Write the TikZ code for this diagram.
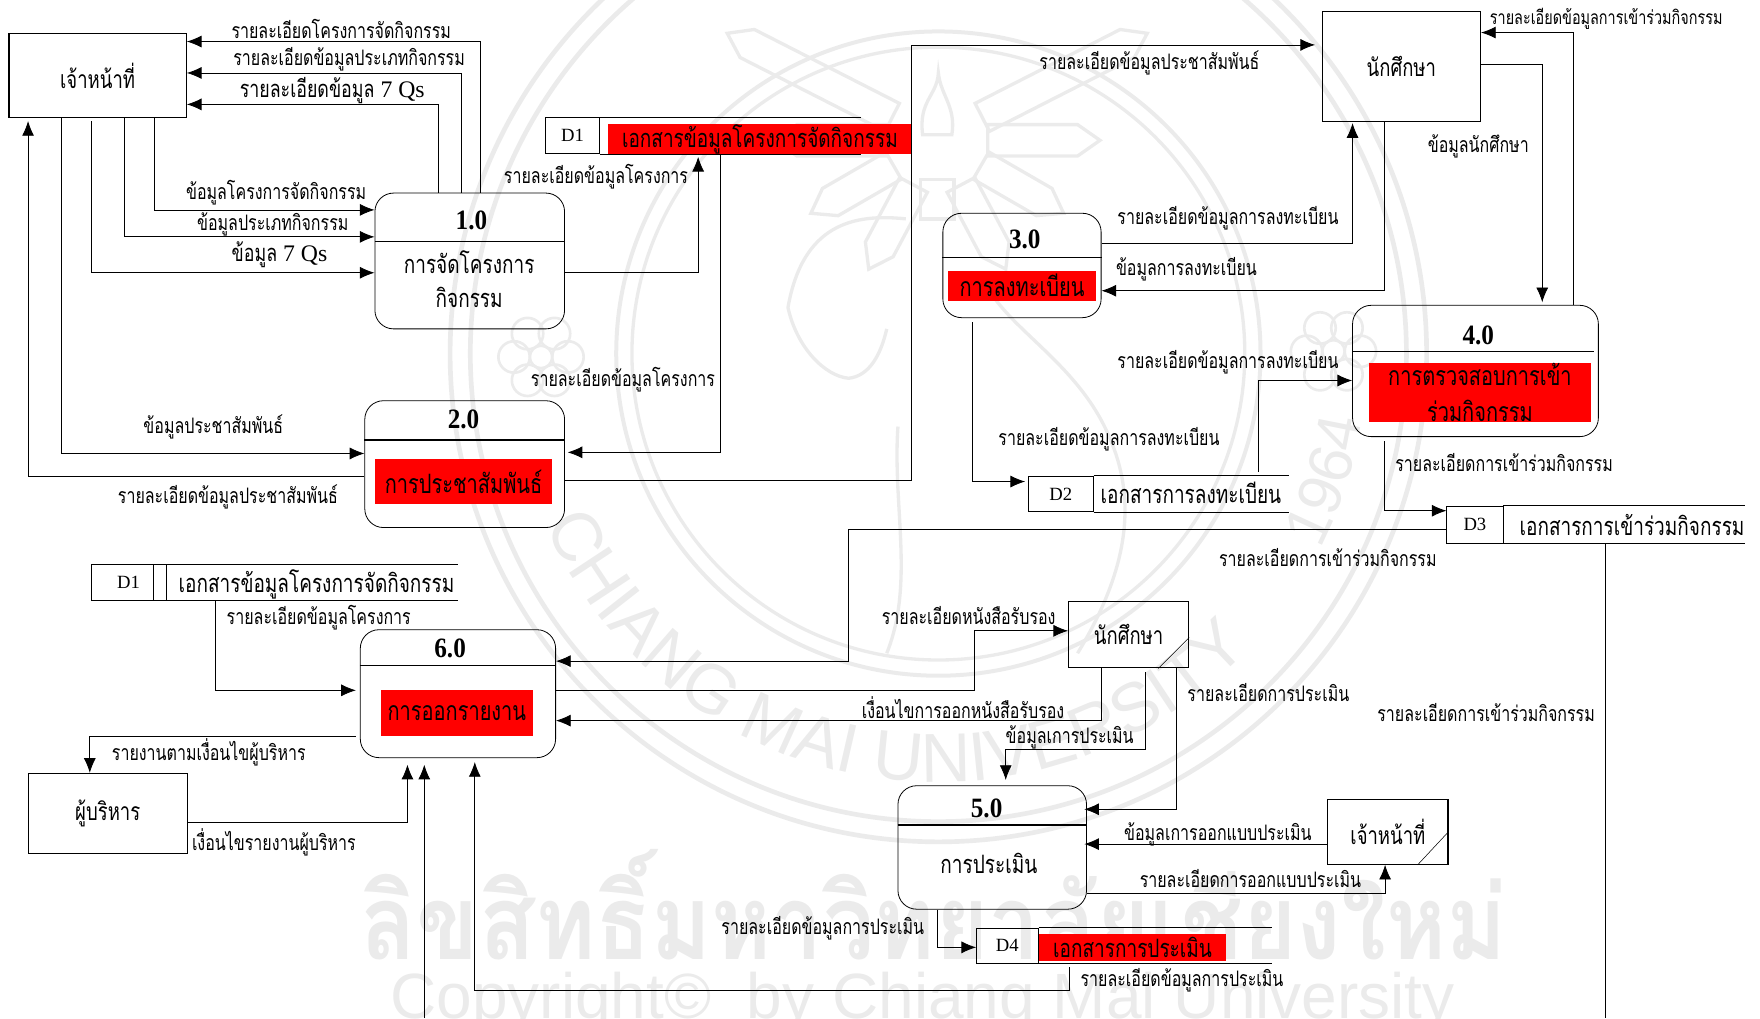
\documentclass[tikz,border=0pt]{standalone}
\usepackage{fontspec}
\usetikzlibrary{arrows.meta,decorations.text}
\setmainfont{Liberation Serif}
\newfontfamily\thaifont[Script=Thai,FakeStretch=0.75]{Loma}
\newfontfamily\thaimark[Script=Thai,FakeStretch=0.88]{Loma}
\newfontfamily\marksans{Liberation Sans}
\newfontfamily\numfont[FakeStretch=0.9]{Liberation Serif}
\definecolor{markgray}{gray}{0.92}
\tikzset{
	box size/.style 2 args={minimum width=#1*0.8418pt, minimum height=#2*0.8418pt, inner sep=0pt},
	entity/.style={draw, thick, font=\thaifont\fontsize{18.5}{20}\selectfont},
	proc/.style={draw, semithick, rounded corners=14pt},
	num/.style={font=\numfont\fontsize{21}{24}\selectfont\bfseries},
	plain/.style={font=\thaifont\fontsize{19}{21}\selectfont},
	storetxt/.style={font=\thaifont\fontsize{19}{21}\selectfont},
	redbox/.style={fill=red, align=center, font=\thaifont\fontsize{20}{27}\selectfont},
	storeid/.style={draw, semithick, font=\fontsize{14}{16}\selectfont},
	lbl/.style={font=\thaifont\fontsize{16}{18}\selectfont, inner sep=0pt},
	lblbig/.style={font=\thaifont\fontsize{17.8}{20}\selectfont, inner sep=0pt},
	flow/.style={-{Latex[length=11pt,width=9pt]}, semithick},
	gap/.style={shorten >=#1pt}
}
\begin{document}
\begin{tikzpicture}[x=0.8418pt,y=-0.8418pt]
	\useasboundingbox (0,0) rectangle (1568,907);
	\begin{scope}
		\clip (0,0) rectangle (1568,907);
		% seal
		\draw[markgray, line width=3.5pt] (836,315) circle (435);
		\draw[markgray, line width=3.5pt] (836,315) circle (417);
		\draw[markgray, line width=3pt] (836,315) circle (287);
		\draw[markgray, line width=2.5pt] (836,315) circle (273);
		\path[decorate, decoration={text along path, text align=center,
			text={|\marksans\fontsize{52}{52}\selectfont\color{markgray}|CHIANG MAI UNIVERSITY}}]
			(836,315) ++(168:382) arc[start angle=168, end angle=32, radius=382];
		\path[decorate, decoration={text along path, text align=center,
			text={|\marksans\fontsize{46}{46}\selectfont\color{markgray}|1964}}]
			(836,315) ++(32:382) arc[start angle=32, end angle=4, radius=382];
		\foreach \a/\l in {0/100,27/165,-30/85,-62/85,-118/85,-150/85,180/100,153/165} {
			\begin{scope}[shift={(835,125)}, rotate=\a]
				\draw[markgray, line width=2.5pt] (45,-14) -- (25+\l,-14) -- (45+\l,0) -- (25+\l,14) -- (45,14) -- cycle;
			\end{scope}
		}
		% torch
		\draw[markgray, line width=2.5pt] (820,160) rectangle (850,195);
		\draw[markgray, line width=2.5pt] (822,120) .. controls (818,90) and (835,85) .. (836,65) .. controls (838,85) and (852,95) .. (848,120) -- cycle;
		% elephant
		\draw[markgray, line width=2.5pt] (807,195) .. controls (760,190) and (715,200) .. (702,274) .. controls (710,310) and (735,335) .. (756,337) .. controls (775,335) and (785,315) .. (790,293);
		\draw[markgray, line width=2.5pt] (875,245) .. controls (890,290) and (960,320) .. (989,391) .. controls (1010,440) and (1010,500) .. (960,582);
		\draw[markgray, line width=2.5pt] (800,380) .. controls (795,450) and (815,520) .. (790,582);
		% flowers
		\foreach \x/\y in {482/318,1188/313} {
			\draw[markgray, line width=2pt] (\x,\y) circle (10);
			\foreach \a in {0,60,...,300} {
				\draw[markgray, line width=2pt] (\x,\y) ++(\a:24) circle (14);
			}
		}
		\node[font=\thaimark\fontsize{78}{80}\selectfont\bfseries, text=markgray, inner sep=0pt] (markth) at (832,806) {ลิขสิทธิ์มหาวิทยาลัยเชียงใหม่};
		\node[font=\marksans\fontsize{48}{48}\selectfont, text=markgray, inner sep=0pt] (marken) at (822,893) {Copyright© \ by Chiang Mai University};
	\end{scope}

	% entities
	\node[entity, box size={158}{75}] (staff) at (87,67.5) {เจ้าหน้าที่};
	\node[entity, box size={141}{98}] (stu) at (1248.5,59) {นักศึกษา};
	\node[entity, box size={142}{71}] (mgr) at (96,724.5) {ผู้บริหาร};
	\node[entity, box size={107}{59}] (stub) at (1005.5,565.5) {นักศึกษา};
	\node[entity, box size={107}{58}] (staffb) at (1236.5,741) {เจ้าหน้าที่};
	\draw (stub.south -| 1032,0) -- (stub.east |- 0,568);
	\draw (staffb.south -| 1263,0) -- (staffb.east |- 0,741);

	% processes
	\node[proc, box size={169}{121}] (p1) at (418.5,232.5) {};
	\draw[thick] (p1.west |- 0,215) -- (p1.east |- 0,215);
	\node[num] (p1n) at (420,196) {1.0};
	\node[plain] (p1a) at (418,234) {การจัดโครงการ};
	\node[plain] (p1b) at (418,265) {กิจกรรม};

	\node[proc, box size={178}{113}] (p2) at (414,413.5) {};
	\draw[thick] (p2.west |- 0,392) -- (p2.east |- 0,392);
	\node[num] (p2n) at (413,374) {2.0};
	\node[redbox, box size={158}{40}] (p2t) at (413,429) {การประชาสัมพันธ์};

	\node[proc, box size={141}{93}] (p3) at (910.5,236.5) {};
	\draw[thick] (p3.west |- 0,229) -- (p3.east |- 0,229);
	\node[num] (p3n) at (913,213) {3.0};
	\node[redbox, box size={131}{27}] (p3t) at (910.5,254.5) {การลงทะเบียน};

	\node[proc, box size={219}{117}] (p4) at (1314.5,330.5) {};
	\draw[thick] (p4.west |- 0,313) -- (1420,313);
	\node[num] (p4n) at (1317,299) {4.0};
	\node[redbox, box size={197}{51}] (p4t) at (1318.5,349.5) {การตรวจสอบการเข้า\\ร่วมกิจกรรม};

	\node[proc, box size={168}{110}] (p5) at (884,755) {};
	\draw[thick] (p5.west |- 0,735) -- (p5.east |- 0,735);
	\node[num] (p5n) at (879,720) {5.0};
	\node[plain] (p5t) at (881,769) {การประเมิน};

	\node[proc, box size={174}{114}] (p6) at (408,618) {};
	\draw[thick] (p6.west |- 0,593) -- (p6.east |- 0,593);
	\node[num] (p6n) at (401,578) {6.0};
	\node[redbox, box size={136}{41}] (p6t) at (407,635.5) {การออกรายงาน};

	% data stores
	\node[storeid, box size={48}{32}] (d1) at (510,121) {D1};
	\node[redbox, box size={270}{26}, storetxt] (d1t) at (677,124) {เอกสารข้อมูลโครงการจัดกิจกรรม};
	\draw[thick] (d1.north east) -- (d1.north -| 767,0);
	\draw[thick] (d1.south east) -- (d1.south -| 767,0);

	\node[storeid, box size={58}{32}] (d2) at (945,440) {D2};
	\draw[thick] (d2.north east) -- (d2.north -| 1148,0);
	\draw[thick] (d2.south east) -- (d2.south -| 1148,0);
	\node[storetxt] (d2t) at (1061,439) {เอกสารการลงทะเบียน};

	\node[storeid, box size={50}{33}] (d3) at (1314,467.5) {D3};
	\draw[thick] (d3.north east) -- (d3.north -| 1555,0);
	\draw[thick] (d3.south east) -- (d3.south -| 1555,0);
	\node[storetxt] (d3t) at (1454,468) {เอกสารการเข้าร่วมกิจกรรม};

	\node[storeid, box size={67}{32}] (d1b) at (114.5,519) {D1};
	\draw[semithick] (d1b.north -| 137,0) -- (d1b.south -| 137,0);
	\draw[thick] (d1b.north east) -- (d1b.north -| 408,0);
	\draw[thick] (d1b.south east) -- (d1b.south -| 408,0);
	\node[storetxt] (d1bt) at (282,521) {เอกสารข้อมูลโครงการจัดกิจกรรม};

	\node[storeid, box size={55}{31}] (d4) at (897.5,842.5) {D4};
	\draw[thick] (d4.north east) -- (d4.north -| 1133,0);
	\draw[thick] (d4.south east) -- (d4.south -| 1133,0);
	\node[redbox, box size={166}{24}, storetxt] (d4t) at (1009,844) {เอกสารการประเมิน};

	% connectors
	\coordinate (r1) at (812,40);
	\coordinate (r2) at (756,589);
	\coordinate (r3) at (953,882);
	\coordinate (r4) at (868,562);
	\coordinate (r5) at (896,668);
	\coordinate (r6) at (423,882);
	\coordinate (b1) at (1430,907);
	\coordinate (b2) at (378,907);

	\draw[flow] (p1.north -| 428,0) |- (staff.east |- 0,37);
	\draw[flow] (p1.north -| 411,0) |- (staff.east |- 0,65);
	\draw[flow] (p1.north -| 391,0) |- (staff.east |- 0,93);
	\draw[flow] (staff.south -| 138,0) |- (p1.west |- 0,187);
	\draw[flow] (staff.south -| 111,0) |- (p1.west |- 0,211);
	\draw[flow, shorten <=2pt] (staff.south -| 81,0) |- (p1.west |- 0,243);
	\draw[flow] (staff.south -| 55,0) |- (p2.west |- 0,404);
	\draw[flow, gap=2] (p2.west |- 0,424) -| (staff.south -| 25,0);
	\draw[flow, gap=2] (p1.east |- 0,243) -| (d1.south -| 622,0);
	\draw[flow, gap=2] (d1.south -| 642,0) |- (p2.east |- 0,403);
	\draw[flow, gap=5] (p2.east |- 0,428) -| (r1) -- (stu.west |- r1);
	\draw[flow] (p4.north -| 1402,0) |- (stu.east |- 0,29);
	\draw[flow, gap=2] (stu.east |- 0,57) -| (p4.north -| 1374,0);
	\draw[flow, gap=1] (p3.east |- 0,217) -| (stu.south -| 1205,0);
	\draw[flow] (stu.south -| 1233,0) |- (p3.east |- 0,259);
	\draw[flow, shorten <=3pt, gap=2] (p3.south -| 866,0) |- (d2.west |- 0,429);
	\draw[flow, shorten <=3pt] (d2.north -| 1121,0) |- (p4.west |- 0,339);
	\draw[flow, shorten <=3pt] (p4.south -| 1233,0) |- (d3.west |- 0,455);
	\draw[flow] (d3.west |- 0,472) -| (r2) -- (p6.east |- r2);
	\draw[semithick] (d3.south -| 1430,0) -- (b1);
	\draw[flow, gap=3] (d1b.south -| 192,0) |- (p6.west |- 0,615);
	\draw[flow, shorten <=3pt] (p6.west |- 0,656) -| (mgr.north -| 80,0);
	\draw[flow, gap=5] (mgr.east |- 0,733) -| (p6.south -| 363,0);
	\draw[flow, gap=5] (b2) -- (p6.south -| 378,0);
	\draw[flow, shorten <=3pt, gap=3] (d4.south -| 953,0) -- (r3) -- (r6) -- (p6.south -| 423,0);
	\draw[flow] (p6.east |- 0,615) -| (r4) -- (stub.west |- r4);
	\draw[flow] (stub.south -| 981,0) |- (p6.east |- 0,642);
	\draw[flow, shorten <=3pt, gap=4] (stub.south -| 1020,0) |- (r5) -- (p5.north -| r5);
	\draw[flow, gap=-2] (stub.south -| 1048,0) |- (p5.east |- 0,721);
	\draw[flow, gap=-2] (staffb.west |- 0,752) -- (p5.east |- 0,752);
	\draw[flow] (p5.east |- 0,796) -| (staffb.south -| 1234,0);
	\draw[flow] (p5.south -| 835,0) |- (d4.west |- 0,844);

	% flow labels
	\node[lbl] (l1) at (304,26) {รายละเอียดโครงการจัดกิจกรรม};
	\node[lbl] (l2) at (311,53) {รายละเอียดข้อมูลประเภทกิจกรรม};
	\node[lblbig] (l3) at (296,81) {รายละเอียดข้อมูล {\rmfamily 7 Qs}};
	\node[lbl] (l4) at (246,172) {ข้อมูลโครงการจัดกิจกรรม};
	\node[lbl] (l5) at (243,200) {ข้อมูลประเภทกิจกรรม};
	\node[lblbig] (l6) at (249,227) {ข้อมูล {\rmfamily 7 Qs}};
	\node[lbl] (l7) at (531,157) {รายละเอียดข้อมูลโครงการ};
	\node[lbl] (l8) at (555,338) {รายละเอียดข้อมูลโครงการ};
	\node[lbl] (l9) at (190,380) {ข้อมูลประชาสัมพันธ์};
	\node[lbl] (l10) at (203,443) {รายละเอียดข้อมูลประชาสัมพันธ์};
	\node[lbl] (l11) at (1024,56) {รายละเอียดข้อมูลประชาสัมพันธ์};
	\node[lbl, font=\thaifont\fontsize{14.4}{18}\selectfont] (l12) at (1431,17) {รายละเอียดข้อมูลการเข้าร่วมกิจกรรม};
	\node[lbl] (l13) at (1317,130) {ข้อมูลนักศึกษา};
	\node[lbl] (l14) at (1094,194) {รายละเอียดข้อมูลการลงทะเบียน};
	\node[lbl] (l15) at (1057,240) {ข้อมูลการลงทะเบียน};
	\node[lbl] (l16) at (1094,323) {รายละเอียดข้อมูลการลงทะเบียน};
	\node[lbl] (l17) at (988,391) {รายละเอียดข้อมูลการลงทะเบียน};
	\node[lbl] (l18) at (1340,412) {รายละเอียดการเข้าร่วมกิจกรรม};
	\node[lbl] (l19) at (1183,497) {รายละเอียดการเข้าร่วมกิจกรรม};
	\node[lbl] (l20) at (1324,635) {รายละเอียดการเข้าร่วมกิจกรรม};
	\node[lbl] (l21) at (284,550) {รายละเอียดข้อมูลโครงการ};
	\node[lbl] (l22) at (186,670) {รายงานตามเงื่อนไขผู้บริหาร};
	\node[lbl] (l23) at (244,750) {เงื่อนไขรายงานผู้บริหาร};
	\node[lbl] (l24) at (863,548) {รายละเอียดหนังสือรับรอง};
	\node[lbl] (l25) at (858,630) {เงื่อนไขการออกหนังสือรับรอง};
	\node[lbl] (l26) at (1130,617) {รายละเอียดการประเมิน};
	\node[lbl] (l27) at (953,657) {ข้อมูลเการประเมิน};
	\node[lbl] (l28) at (1085,743) {ข้อมูลเการออกแบบประเมิน};
	\node[lbl] (l29) at (1114,783) {รายละเอียดการออกแบบประเมิน};
	\node[lbl] (l30) at (733,827) {รายละเอียดข้อมูลการประเมิน};
	\node[lbl] (l31) at (1053,873) {รายละเอียดข้อมูลการประเมิน};
\end{tikzpicture}
\end{document}
